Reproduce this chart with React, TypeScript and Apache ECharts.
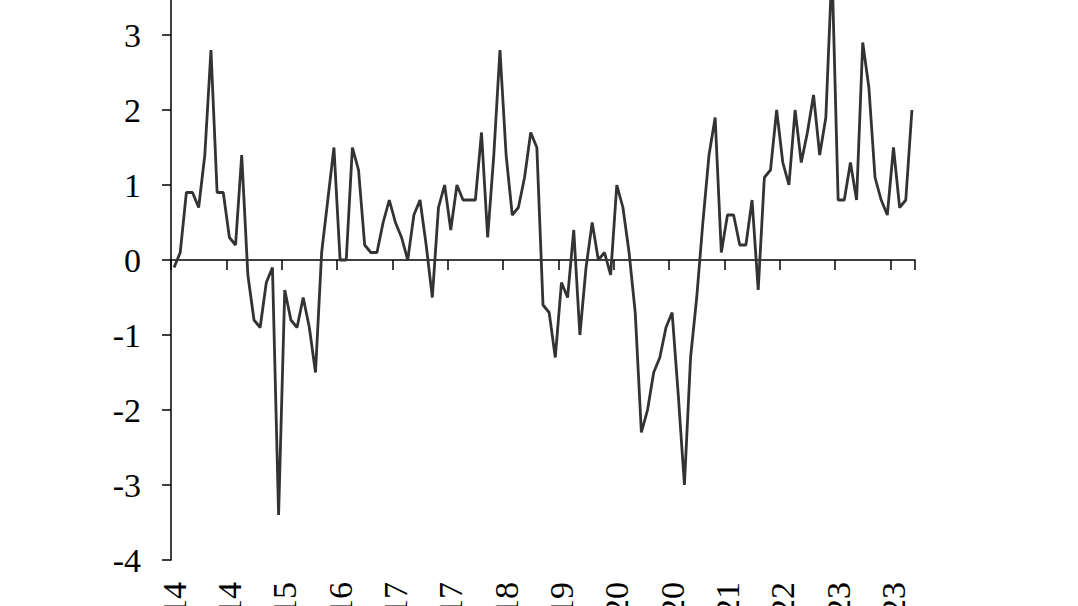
import React, { useEffect, useRef } from "react";
import * as echarts from "echarts";

const monthNames = ["Jan", "Feb", "Mar", "Apr", "May", "Jun", "Jul", "Aug", "Sep", "Oct", "Nov", "Dec"];
const startYear = 2014;
const monthCount = 121;
const categories: string[] = Array.from({ length: monthCount }, (_, i) => {
  const y = startYear + Math.floor(i / 12);
  return `${monthNames[i % 12]}-${String(y).slice(2)}`;
});

const values: number[] = [
  -0.1, 0.1, 0.9, 0.9, 0.7, 1.4, 2.8, 0.9, 0.9, 0.3, 0.2, 1.4,
  -0.2, -0.8, -0.9, -0.3, -0.1, -3.4, -0.4, -0.8, -0.9, -0.5, -0.9, -1.5,
  0.1, 0.8, 1.5, 0.0, 0.0, 1.5, 1.2, 0.2, 0.1, 0.1, 0.5, 0.8,
  0.5, 0.3, 0.0, 0.6, 0.8, 0.2, -0.5, 0.7, 1.0, 0.4, 1.0, 0.8,
  0.8, 0.8, 1.7, 0.3, 1.4, 2.8, 1.4, 0.6, 0.7, 1.1, 1.7, 1.5,
  -0.6, -0.7, -1.3, -0.3, -0.5, 0.4, -1.0, -0.1, 0.5, 0.0, 0.1, -0.2,
  1.0, 0.7, 0.1, -0.7, -2.3, -2.0, -1.5, -1.3, -0.9, -0.7, -1.8, -3.0,
  -1.3, -0.5, 0.5, 1.4, 1.9, 0.1, 0.6, 0.6, 0.2, 0.2, 0.8, -0.4,
  1.1, 1.2, 2.0, 1.3, 1.0, 2.0, 1.3, 1.7, 2.2, 1.4, 1.9, 3.9,
  0.8, 0.8, 1.3, 0.8, 2.9, 2.3, 1.1, 0.8, 0.6, 1.5, 0.7, 0.8,
  2.0,
];

const yMin = -4;
const yMax = 4;
const yStep = 1;
const labelEvery = 9;

const FONT = "Liberation Serif";

export default function App() {
  const ref = useRef<HTMLDivElement>(null);
  useEffect(() => {
    if (!ref.current) return;
    const chart = echarts.init(ref.current, null, { renderer: "svg" });
    chart.setOption({
      animation: false,
      backgroundColor: "#ffffff",
      grid: { left: 171, top: 60, width: 744, height: 600, containLabel: false },
      xAxis: [
        {
          type: "category",
          data: categories,
          position: "bottom",
          boundaryGap: true,
          axisLine: { show: false, onZero: false },
          axisTick: { show: false },
          axisLabel: {
            interval: labelEvery - 1,
            rotate: 90,
            margin: 22,
            fontFamily: FONT,
            fontSize: 34,
            color: "#000",
          },
          splitLine: { show: false },
        },
        {
          type: "category",
          data: categories,
          position: "bottom",
          boundaryGap: true,
          axisLine: { show: true, onZero: true, onZeroAxisIndex: 0, lineStyle: { color: "#000", width: 1.5 } },
          axisTick: { show: true, interval: labelEvery - 1, length: 10, lineStyle: { color: "#000", width: 1.5 } },
          axisLabel: { show: false },
          splitLine: { show: false },
        },
      ],
      yAxis: {
        type: "value",
        min: yMin,
        max: yMax,
        interval: yStep,
        axisLine: { show: true, onZero: false, lineStyle: { color: "#000", width: 1.5 } },
        axisTick: { show: true, length: 9, lineStyle: { color: "#000", width: 1.5 } },
        axisLabel: { margin: 30, fontFamily: FONT, fontSize: 34, color: "#000" },
        splitLine: { show: false },
      },
      series: [
        {
          type: "line",
          data: values,
          xAxisIndex: 0,
          yAxisIndex: 0,
          symbol: "none",
          lineStyle: { color: "#333333", width: 2.8 },
        },
      ],
    });
    return () => chart.dispose();
  }, []);
  return (
    <div
      ref={ref}
      style={{ position: "absolute", left: 0, top: -100, width: 1078, height: 800 }}
    />
  );
}
